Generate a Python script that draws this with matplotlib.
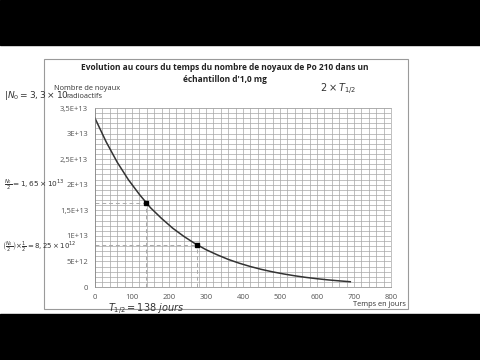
import numpy as np
import matplotlib.pyplot as plt
from matplotlib.patches import Rectangle
from matplotlib.ticker import MultipleLocator, FixedLocator, FixedFormatter

# decay of Po 210 (days, number of nuclei)
t_days = [0, 30, 60, 90, 120, 150, 180, 210, 240, 270, 300, 330, 360, 390,
          420, 450, 480, 510, 540, 570, 600, 630, 660, 690]
n_nuclei = [3.30e13, 2.84e13, 2.44e13, 2.10e13, 1.81e13, 1.55e13, 1.34e13,
            1.15e13, 0.99e13, 0.85e13, 0.73e13, 0.63e13, 0.54e13, 0.465e13,
            0.40e13, 0.344e13, 0.296e13, 0.255e13, 0.219e13, 0.188e13,
            0.162e13, 0.139e13, 0.120e13, 0.103e13]

# half-life points
mark_t = [138, 276]
mark_n = [1.65e13, 8.25e12]

y_ticks = [0, 5e12, 1e13, 1.5e13, 2e13, 2.5e13, 3e13, 3.5e13]
y_labels = ['0', '5E+12', '1E+13', '1,5E+13', '2E+13', '2,5E+13', '3E+13', '3,5E+13']
x_ticks = [0, 100, 200, 300, 400, 500, 600, 700, 800]

plt.rcParams['font.family'] = ['Open Sans', 'DejaVu Sans']

fig = plt.figure(figsize=(4.8, 3.6), dpi=100, facecolor='w')

# black video bars
fig.patches.append(Rectangle((0, 0), 1, 46 / 360, transform=fig.transFigure,
                             color='black', zorder=0))
fig.patches.append(Rectangle((0, 315 / 360), 1, 45 / 360, transform=fig.transFigure,
                             color='black', zorder=0))
# chart frame
fig.patches.append(Rectangle((44 / 480, 51 / 360), 364 / 480, 250 / 360,
                             transform=fig.transFigure, fill=False,
                             edgecolor='#9a9a9a', lw=0.8, zorder=1))

ax = fig.add_axes([95 / 480, 73 / 360, 296 / 480, 179 / 360])
ax.set_xlim(0, 800)
ax.set_ylim(0, 3.5e13)

ax.xaxis.set_minor_locator(MultipleLocator(20))
ax.yaxis.set_minor_locator(MultipleLocator(1e12))
ax.xaxis.set_major_locator(FixedLocator(x_ticks))
ax.yaxis.set_major_locator(FixedLocator(y_ticks))
ax.yaxis.set_major_formatter(FixedFormatter(y_labels))
ax.grid(which='both', color='#a6a6a6', lw=0.5)
ax.set_axisbelow(True)
ax.tick_params(which='both', length=0, labelsize=5.5, labelcolor='#555555', pad=5)
for s in ax.spines.values():
    s.set_color('#a6a6a6')
    s.set_linewidth(0.5)
ax.spines['left'].set_color('#808080')
ax.spines['bottom'].set_color('#808080')

ax.plot(t_days, n_nuclei, color='#333333', lw=1.1)
for t, n in zip(mark_t, mark_n):
    ax.plot([0, t], [n, n], color='#aaaaaa', lw=0.7, ls=(0, (4, 3)))
    ax.plot([t, t], [0, n], color='#aaaaaa', lw=0.7, ls=(0, (4, 3)))
ax.plot(mark_t, mark_n, 's', color='black', ms=3)

fig.text(225 / 480, 1 - 67 / 360, "Evolution au cours du temps du nombre de noyaux de Po 210 dans un",
         ha='center', va='center', fontsize=6.0, fontweight='bold', color='#222222')
fig.text(225 / 480, 1 - 79 / 360, "échantillon d'1,0 mg",
         ha='center', va='center', fontsize=6.0, fontweight='bold', color='#222222')

fig.text(54 / 480, 1 - 88 / 360, "Nombre de noyaux", ha='left', va='center',
         fontsize=5.3, color='#333333')
fig.text(84 / 480, 1 - 97 / 360, "radioactifs", ha='center', va='center',
         fontsize=5.3, color='#333333')
fig.text(406 / 480, 1 - 304 / 360, "Temps en jours", ha='right', va='center',
         fontsize=5.3, color='#333333')

# handwritten notes
hw = dict(color='#333333', style='italic', va='center')
fig.text(4 / 480, 1 - 95 / 360, r"$|N_0 = 3,3\times10$", fontsize=6.5, **hw)
fig.text(4 / 480, 1 - 185 / 360, r"$\frac{N_0}{2} = 1,65\times10^{13}$", fontsize=5.3, **hw)
fig.text(2 / 480, 1 - 247 / 360, r"$\left(\frac{N_0}{2}\right)\!\times\!\frac{1}{2} = 8,25\times10^{12}$",
         fontsize=5, **hw)
fig.text(108 / 480, 1 - 309 / 360, r"$T_{1/2} = 138\ jours$", fontsize=7, **hw)
fig.text(320 / 480, 1 - 89 / 360, r"$2\times T_{1/2}$", fontsize=7, **hw)

fig.savefig('out.png', dpi=100, facecolor='w')
